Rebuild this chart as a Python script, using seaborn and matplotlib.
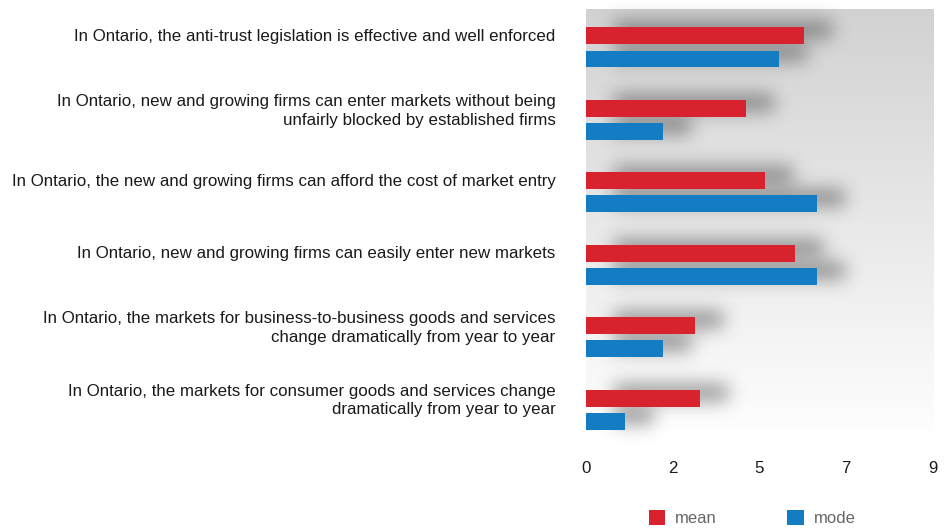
import numpy as np
import pandas as pd
import matplotlib
matplotlib.use("Agg")
import matplotlib.pyplot as plt
from matplotlib.patches import Rectangle
import seaborn as sns

# Survey statements (top to bottom) and their summary statistics
questions = [
    "In Ontario, the anti-trust legislation is effective and well enforced",
    "In Ontario, new and growing firms can enter markets without being\nunfairly blocked by established firms",
    "In Ontario, the new and growing firms can afford the cost of market entry",
    "In Ontario, new and growing firms can easily enter new markets",
    "In Ontario, the markets for business-to-business goods and services\nchange dramatically from year to year",
    "In Ontario, the markets for consumer goods and services change\ndramatically from year to year",
]
mean_values = [5.66, 4.15, 4.64, 5.43, 2.82, 2.95]
mode_values = [5, 2, 6, 6, 2, 1]
series_names = ["mean", "mode"]
x_ticks = [0, 2.25, 4.5, 6.75, 9]
x_tick_labels = ["0", "2", "5", "7", "9"]

RED = "#D8232E"
BLUE = "#137CC2"

df = pd.DataFrame({
    "question": questions * 2,
    "stat": [series_names[0]] * len(questions) + [series_names[1]] * len(questions),
    "value": mean_values + mode_values,
})

sns.set_theme(style="white")
plt.rcParams["font.family"] = ["Liberation Sans", "DejaVu Sans"]

fig = plt.figure(figsize=(9.51, 5.29), dpi=100)
ax = fig.add_axes([586 / 951, 1 - 430 / 529, (933 - 586) / 951, (430 - 9) / 529])
ax.set_facecolor("none")

sns.barplot(data=df, y="question", x="value", hue="stat", orient="h",
            palette=[RED, BLUE], saturation=1, width=0.64, gap=0.27,
            linewidth=0, edgecolor="none", ax=ax, zorder=3)


def _blur_1d(a, sigma, axis):
    r = int(3 * sigma)
    k = np.exp(-0.5 * (np.arange(-r, r + 1) / sigma) ** 2)
    k /= k.sum()
    out = np.zeros_like(a)
    for i, w in zip(range(-r, r + 1), k):
        out += w * np.roll(a, i, axis=axis)
    return out


class DropShadow:
    """Agg filter: blurred, offset grey silhouette of the artist."""

    def __init__(self, sigma=9, dx=28, dy=6, alpha=0.5, grey=0.18):
        self.sigma, self.dx, self.dy = sigma, dx, dy
        self.alpha, self.grey = alpha, grey

    def __call__(self, im, dpi):
        pad = int(3 * self.sigma) + 2
        p = np.pad(im, [(pad, pad), (pad, pad), (0, 0)], "constant")
        a = p[..., 3]
        a = _blur_1d(_blur_1d(a, self.sigma, 0), self.sigma, 1)
        out = np.zeros_like(p)
        out[..., :3] = self.grey
        out[..., 3] = np.clip(a * self.alpha, 0, 1)
        return out, -pad + self.dx, -pad + self.dy


# soft shadows under every bar
for bar in list(ax.patches):
    sh = Rectangle(bar.get_xy(), bar.get_width(), bar.get_height(),
                   facecolor="black", edgecolor="none", zorder=2)
    sh.set_agg_filter(DropShadow())
    ax.add_patch(sh)

# background gradient of the plotting area (darker at the top)
grad = np.linspace(0.823, 0.995, 256).reshape(-1, 1)
ax.imshow(np.dstack([grad] * 3), extent=[0, 1, 0, 1], origin="upper",
          transform=ax.transAxes, aspect="auto", zorder=0,
          interpolation="bilinear")

ax.set_xlim(0, 9)
ax.set_ylim(5.28, -0.53)
ax.set_xticks(x_ticks, x_tick_labels)
ax.set_yticks(np.arange(len(questions)) - 0.17, questions)
for t in ax.get_yticklabels():
    t.set_horizontalalignment("right")
    t.set_multialignment("right")
    t.set_linespacing(1.3)
ax.tick_params(axis="x", length=0, pad=22, labelsize=12.2, labelcolor="#1a1a1a")
ax.tick_params(axis="y", length=0, pad=22, labelsize=12.2, labelcolor="#1a1a1a")
ax.set_xlabel("")
ax.set_ylabel("")
for s in ax.spines.values():
    s.set_visible(False)

handles, labels = ax.get_legend_handles_labels()
if ax.get_legend() is not None:
    ax.get_legend().remove()
fig.legend(handles, labels, loc="center", bbox_to_anchor=(752 / 951, 1 - 518 / 529),
           ncol=2, frameon=False, fontsize=12, labelcolor="#666666",
           handlelength=1.0, handleheight=1.0, handletextpad=0.6,
           columnspacing=4.2)

fig.savefig("out.png", dpi=100, facecolor="white")
